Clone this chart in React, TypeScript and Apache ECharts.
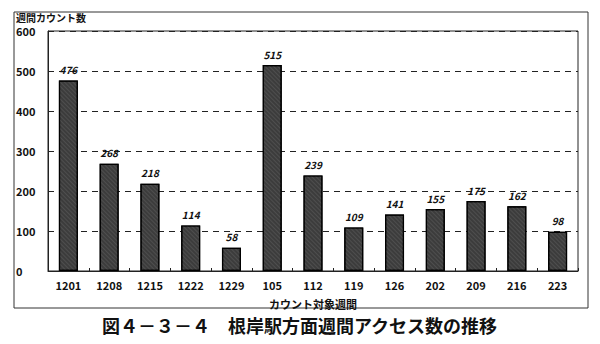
import React, { useEffect, useRef } from "react";
import * as echarts from "echarts";

const categories = ["1201", "1208", "1215", "1222", "1229", "105", "112", "119", "126", "202", "209", "216", "223"];
const values = [476, 268, 218, 114, 58, 515, 239, 109, 141, 155, 175, 162, 98];
const yTicks = [0, 100, 200, 300, 400, 500, 600];

const FONT = "'Noto Sans CJK JP', 'Noto Sans', sans-serif";

export default function App() {
  const ref = useRef<HTMLDivElement>(null);
  useEffect(() => {
    if (!ref.current) return;
    const chart = echarts.init(ref.current, undefined, { renderer: "svg" });
    chart.setOption({
      animation: false,
      backgroundColor: "#ffffff",
      grid: { left: 48, right: 22, top: 31, bottom: 73, show: true, borderColor: "#222", borderWidth: 1 },
      xAxis: {
        type: "category",
        data: categories,
        name: "カウント対象週間",
        nameLocation: "middle",
        nameGap: 27,
        nameTextStyle: { fontFamily: FONT, fontWeight: "bold", fontSize: 11, color: "#111" },
        axisLine: { lineStyle: { color: "#222" } },
        axisTick: { show: true, inside: true, length: 3, lineStyle: { color: "#222" } },
        axisLabel: { fontFamily: FONT, fontWeight: "bold", fontSize: 11, color: "#111", margin: 8 },
      },
      yAxis: {
        type: "value",
        min: yTicks[0],
        max: yTicks[yTicks.length - 1],
        interval: 100,
        axisLine: { show: true, lineStyle: { color: "#222" } },
        axisTick: { show: false },
        axisLabel: { fontFamily: FONT, fontWeight: "bold", fontSize: 11, color: "#111", align: "left", margin: 32 },
        splitLine: { show: true, lineStyle: { type: [6, 5], color: "#222", width: 1 } },
      },
      series: [
        {
          type: "bar",
          data: values,
          barWidth: 19,
          itemStyle: {
            color: "#3c3c3c",
            borderColor: "#000",
            borderWidth: 1.2,
            decal: {
              symbol: "rect",
              symbolSize: 0.6,
              dashArrayX: [1, 0],
              dashArrayY: [1, 2],
              rotation: Math.PI / 4,
              color: "rgba(160,160,160,0.6)",
            },
          },
          label: {
            show: true,
            position: "top",
            distance: 6,
            fontFamily: FONT,
            fontStyle: "italic",
            fontWeight: "bold",
            fontSize: 10,
            color: "#111",
          },
        },
      ],
      graphic: [
        {
          type: "rect",
          shape: { x: 14, y: 12, width: 574, height: 296 },
          style: { fill: "none", stroke: "#333", lineWidth: 1 },
          silent: true,
        },
        {
          type: "text",
          left: 16,
          top: 12,
          style: { text: "週間カウント数", font: `bold 10px ${FONT}`, fill: "#111" },
        },
        {
          type: "text",
          left: "center",
          top: 316,
          style: { text: "図４－３－４　根岸駅方面週間アクセス数の推移", font: `bold 18px ${FONT}`, fill: "#111" },
        },
      ],
    });
    return () => chart.dispose();
  }, []);
  return <div ref={ref} style={{ position: "fixed", left: 0, top: 0, width: 600, height: 344 }} />;
}
